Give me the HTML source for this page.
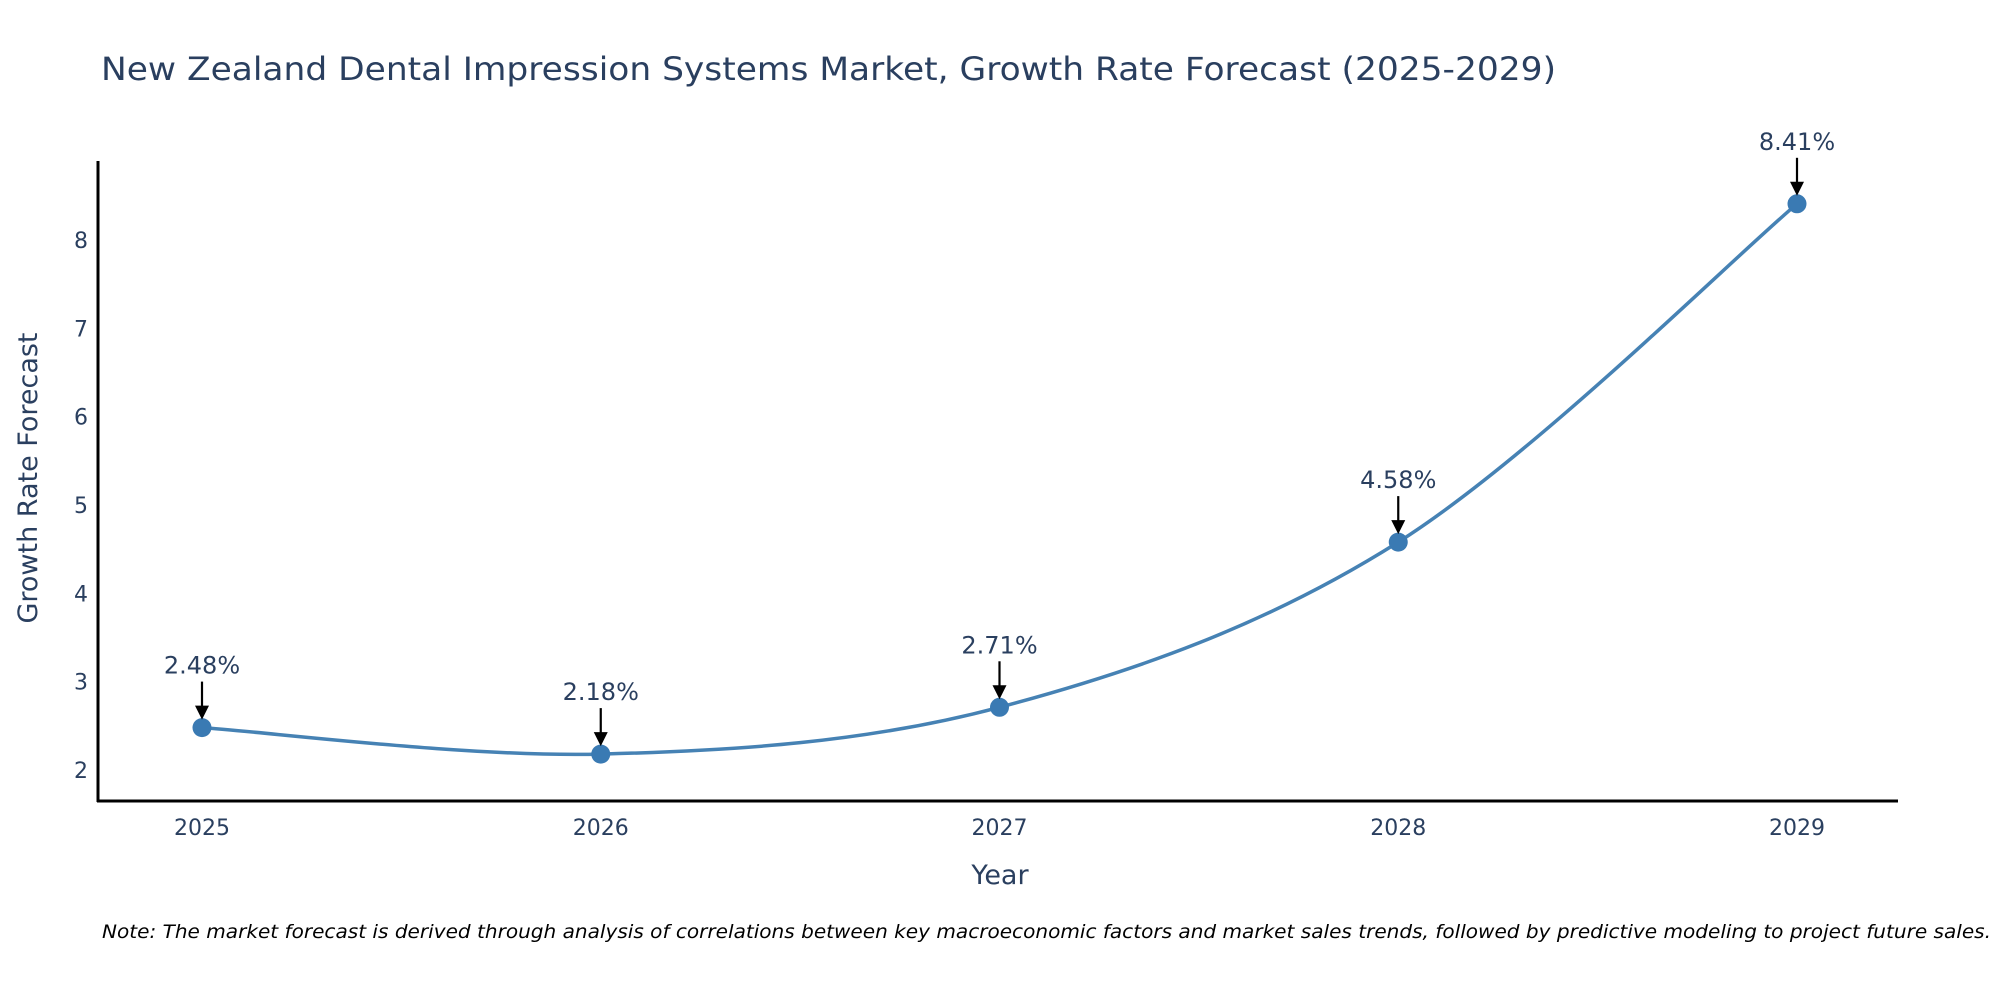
<!DOCTYPE html>
<html><head><meta charset="utf-8"><style>
body{margin:0;background:#fff;}
svg text{font-family:"DejaVu Sans","Liberation Sans",sans-serif;fill:#2a3f5f;}
</style></head><body>
<svg id="chart" width="2000" height="1000" viewBox="0 0 2000 1000" xmlns="http://www.w3.org/2000/svg">
<text x="101" y="80" font-size="32" textLength="1455" lengthAdjust="spacingAndGlyphs">New Zealand Dental Impression Systems Market, Growth Rate Forecast (2025-2029)</text>
<g id="yticks"></g><g id="xticks"></g>
<path id="line" fill="none" stroke="#4682b4" stroke-width="3.5"/>
<g id="marks"></g>
<line x1="98" y1="161" x2="98" y2="802" stroke="#000" stroke-width="3"/>
<line x1="97" y1="801" x2="1898" y2="801" stroke="#000" stroke-width="3"/>
<text x="1000" y="884" font-size="27" text-anchor="middle">Year</text>
<text transform="translate(37,478) rotate(-90)" font-size="27" text-anchor="middle">Growth Rate Forecast</text>
<text x="102" y="938" font-size="19" font-style="italic" textLength="1889" lengthAdjust="spacingAndGlyphs" style="fill:#000">Note: The market forecast is derived through analysis of correlations between key macroeconomic factors and market sales trends, followed by predictive modeling to project future sales.</text>
</svg>
<script>
const years=[2025,2026,2027,2028,2029];
const values=[2.48,2.18,2.71,4.58,8.41];
const labels=["2.48%","2.18%","2.71%","4.58%","8.41%"];
const yTicks=[2,3,4,5,6,7,8];
const NS="http://www.w3.org/2000/svg";
const X=v=>202+(v-2025)*(1797-202)/4;
const Y=v=>770-(v-2)*88.33;
function mk(tag,attrs,parent,text){const e=document.createElementNS(NS,tag);for(const k in attrs)e.setAttribute(k,attrs[k]);if(text!==undefined)e.textContent=text;parent.appendChild(e);return e;}
const yt=document.getElementById('yticks'),xt=document.getElementById('xticks'),mg=document.getElementById('marks');
yTicks.forEach(t=>{const e=mk('text',{x:88,y:Y(t)+8,'font-size':22,'text-anchor':'end'},yt,String(t));

});
years.forEach(t=>{const e=mk('text',{x:X(t),y:835,'font-size':22,'text-anchor':'middle'},xt,String(t));

});
const pts=years.map((y,i)=>[X(y),Y(values[i])]);
let d=`M${pts[0][0]},${pts[0][1]}`;
for(let i=0;i<pts.length-1;i++){const p0=pts[Math.max(i-1,0)],p1=pts[i],p2=pts[i+1],p3=pts[Math.min(i+2,pts.length-1)];const s=6;
d+=` C${p1[0]+(p2[0]-p0[0])/s},${p1[1]+(p2[1]-p0[1])/s} ${p2[0]-(p3[0]-p1[0])/s},${p2[1]-(p3[1]-p1[1])/s} ${p2[0]},${p2[1]}`;}
document.getElementById('line').setAttribute('d',d);
pts.forEach((p,i)=>{
const c=mk('circle',{cx:p[0],cy:p[1],r:9.5,fill:'#3a7ab3'},mg);


const a=mk('line',{x1:p[0],y1:p[1]-46,x2:p[0],y2:p[1]-20,stroke:'#000','stroke-width':2.2},mg);


const h=mk('polygon',{points:`${p[0]-7},${p[1]-22} ${p[0]+7},${p[1]-22} ${p[0]},${p[1]-8}`,fill:'#000'},mg);


const t=mk('text',{x:p[0],y:p[1]-54,'font-size':24,'text-anchor':'middle'},mg,labels[i]);


});
</script>
</body></html>
